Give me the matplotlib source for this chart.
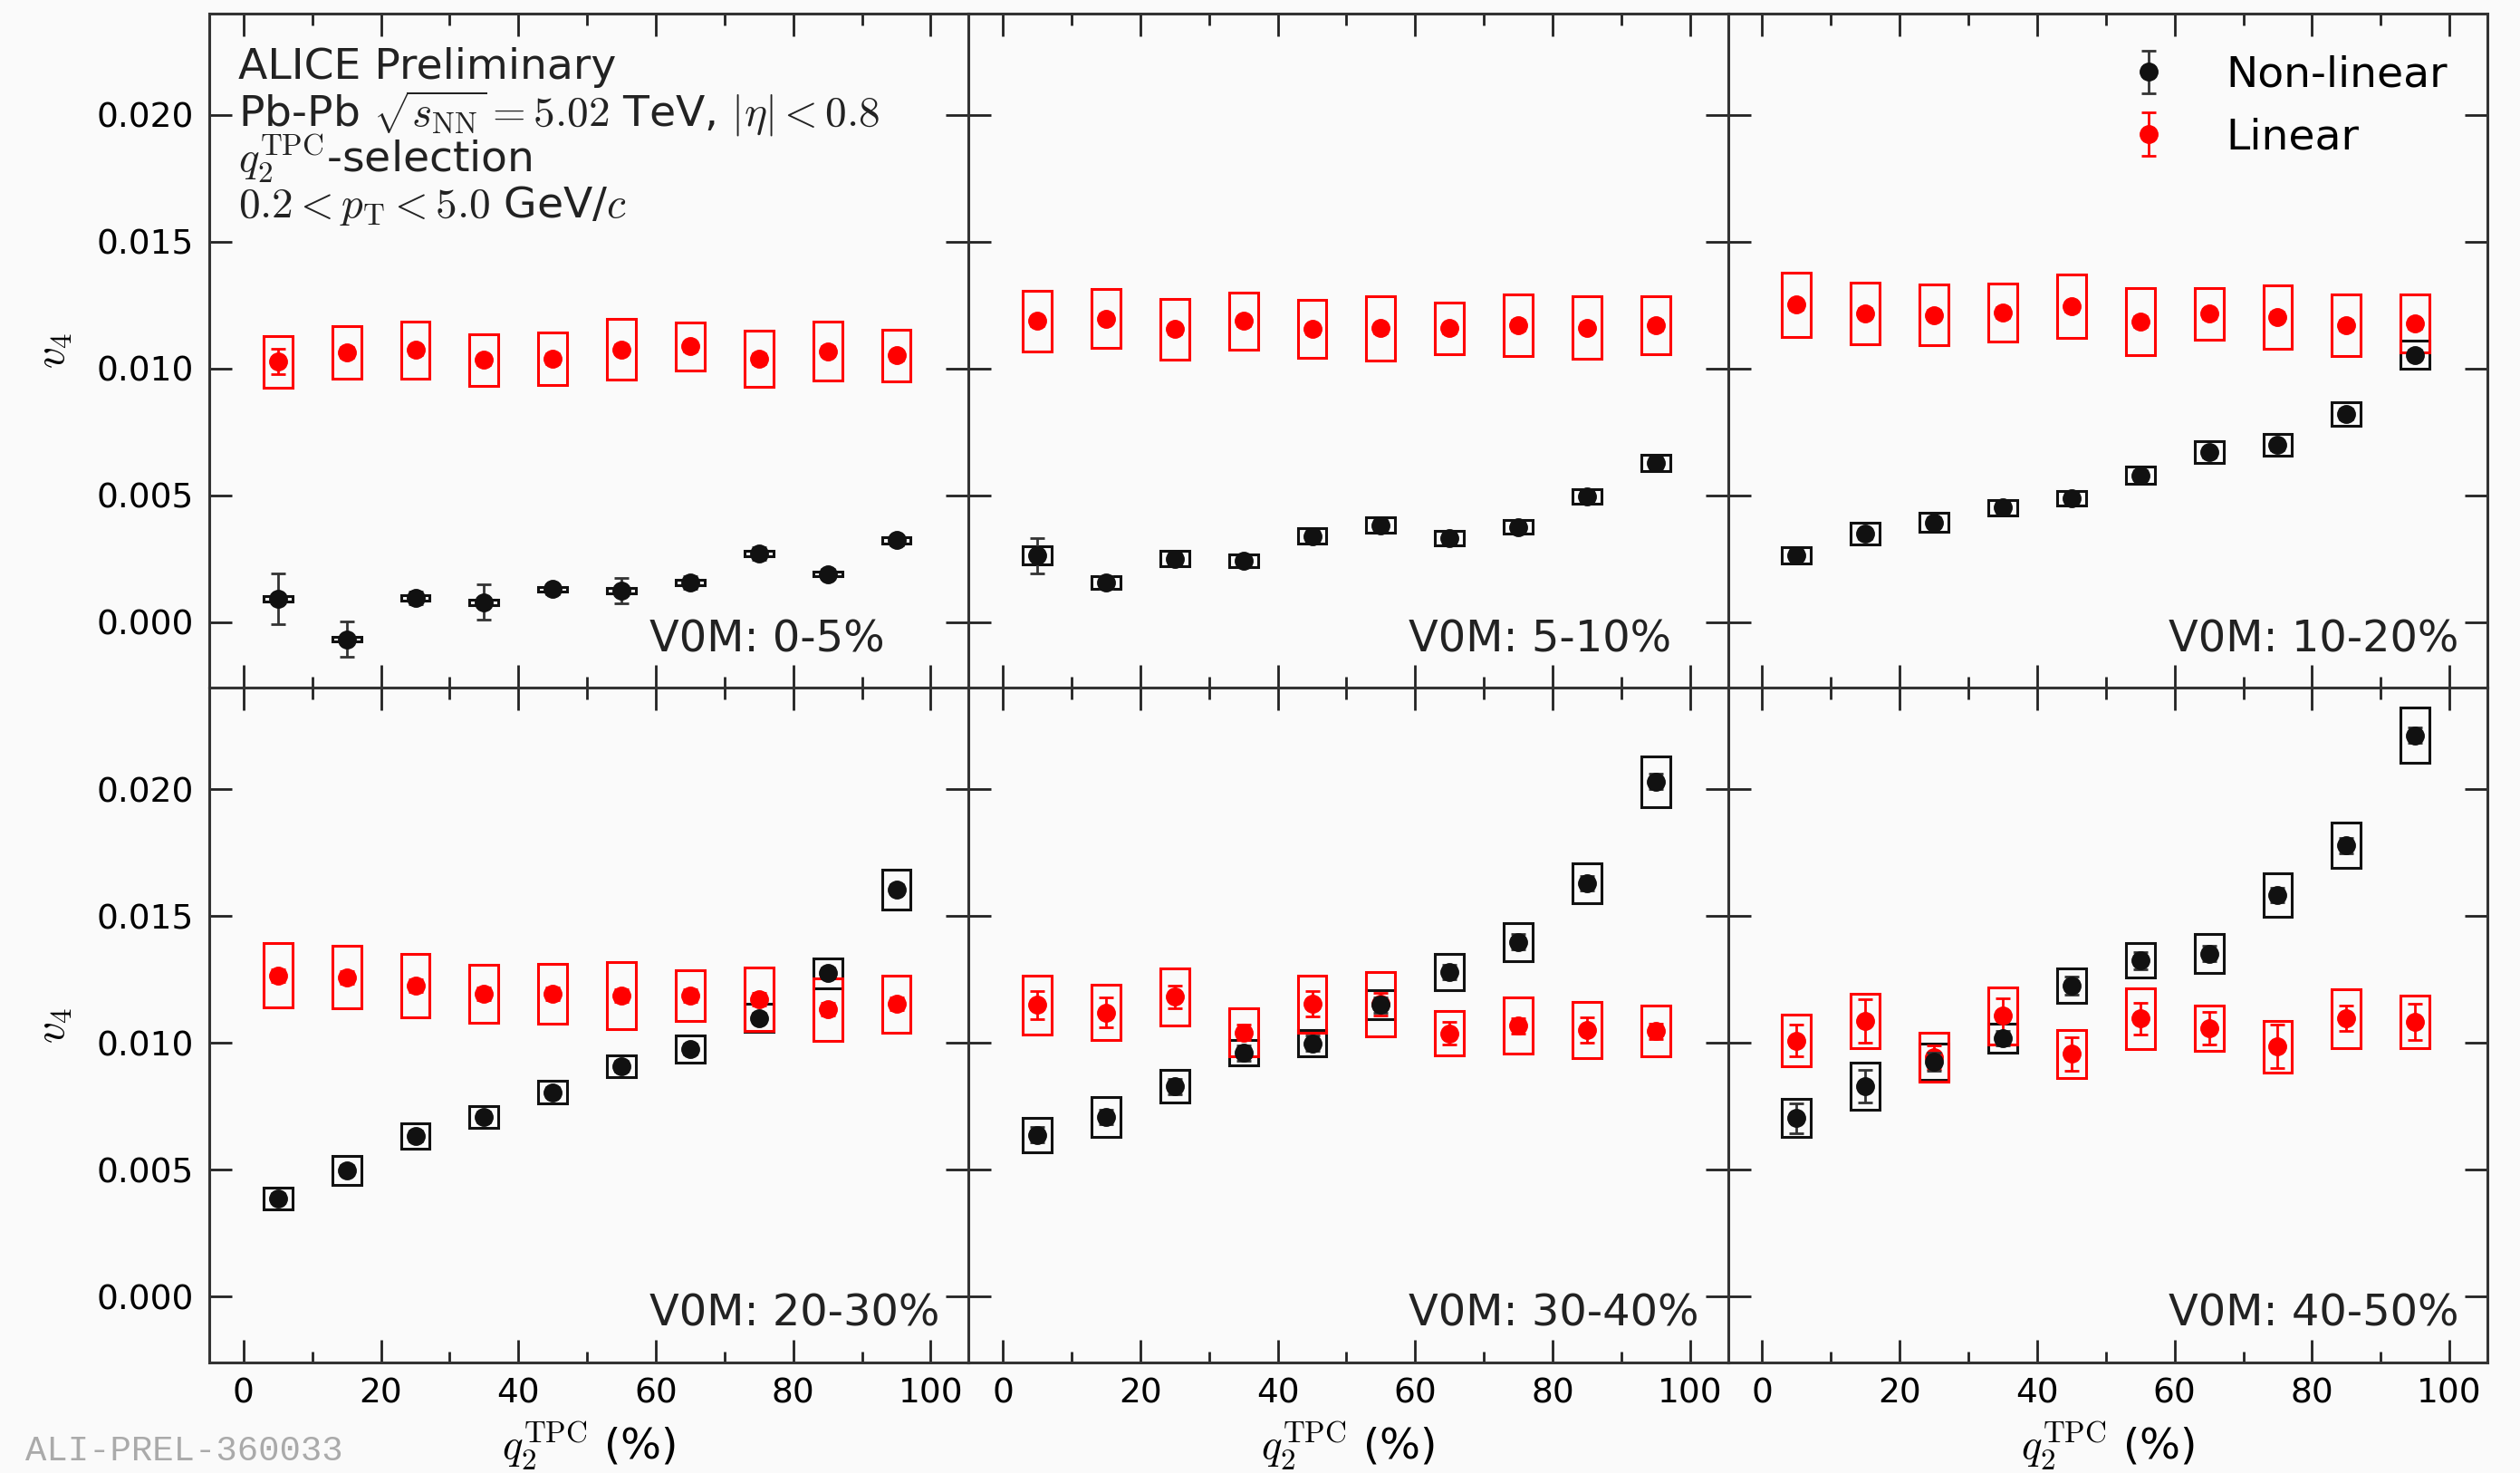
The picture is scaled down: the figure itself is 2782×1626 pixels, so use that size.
import numpy as np
import matplotlib
matplotlib.use("Agg")
import matplotlib.pyplot as plt
from matplotlib.ticker import MultipleLocator

plt.rcParams['font.family'] = ['DejaVu Sans']
plt.rcParams['mathtext.fontset'] = 'cm'

# q2 selection bins (%)
q2 = [5, 15, 25, 35, 45, 55, 65, 75, 85, 95]
centralities = ['V0M: 0-5%', 'V0M: 5-10%', 'V0M: 10-20%',
                'V0M: 20-30%', 'V0M: 30-40%', 'V0M: 40-50%']

# non-linear v4
nl_val = [
    [0.00091, -0.00068, 0.00095, 0.00078, 0.00129, 0.00123, 0.00156, 0.00270, 0.00189, 0.00322],
    [0.00262, 0.00157, 0.00250, 0.00240, 0.00339, 0.00381, 0.00331, 0.00375, 0.00494, 0.00627],
    [0.00264, 0.00348, 0.00392, 0.00451, 0.00487, 0.00578, 0.00669, 0.00697, 0.00820, 0.01053],
    [0.00388, 0.00499, 0.00633, 0.00708, 0.00806, 0.00908, 0.00976, 0.01099, 0.01276, 0.01606],
    [0.00638, 0.00708, 0.00829, 0.00960, 0.00998, 0.01150, 0.01280, 0.01398, 0.01630, 0.02031],
    [0.00703, 0.00829, 0.00927, 0.01019, 0.01226, 0.01325, 0.01352, 0.01583, 0.01779, 0.02213],
]
nl_stat = [
    [0.00100, 0.00070, 0.00025, 0.00070, 0.00020, 0.00050, 0.00025, 0.00025, 0.00020, 0.00020],
    [0.00070, 0.00025, 0.00020, 0.00020, 0.00020, 0.00020, 0.00020, 0.00020, 0.00020, 0.00020],
    [0.00020, 0.00020, 0.00020, 0.00020, 0.00020, 0.00020, 0.00020, 0.00020, 0.00020, 0.00020],
    [0.00020, 0.00020, 0.00020, 0.00020, 0.00020, 0.00020, 0.00020, 0.00020, 0.00020, 0.00020],
    [0.00030, 0.00030, 0.00030, 0.00030, 0.00030, 0.00030, 0.00030, 0.00030, 0.00030, 0.00030],
    [0.00060, 0.00065, 0.00035, 0.00030, 0.00035, 0.00035, 0.00030, 0.00030, 0.00030, 0.00030],
]
nl_sys = [
    [0.00010, 0.00010, 0.00010, 0.00010, 0.00010, 0.00010, 0.00010, 0.00012, 0.00010, 0.00012],
    [0.00036, 0.00025, 0.00030, 0.00025, 0.00030, 0.00030, 0.00028, 0.00028, 0.00028, 0.00032],
    [0.00032, 0.00042, 0.00037, 0.00030, 0.00029, 0.00034, 0.00042, 0.00043, 0.00045, 0.00055],
    [0.00043, 0.00057, 0.00050, 0.00043, 0.00044, 0.00044, 0.00054, 0.00056, 0.00059, 0.00079],
    [0.00068, 0.00078, 0.00065, 0.00050, 0.00052, 0.00057, 0.00070, 0.00076, 0.00080, 0.00100],
    [0.00075, 0.00092, 0.00071, 0.00057, 0.00068, 0.00068, 0.00076, 0.00087, 0.00090, 0.00110],
]

# linear v4
lin_val = [
    [0.01026, 0.01063, 0.01072, 0.01033, 0.01038, 0.01075, 0.01087, 0.01038, 0.01068, 0.01051],
    [0.01187, 0.01196, 0.01155, 0.01187, 0.01155, 0.01158, 0.01158, 0.01170, 0.01161, 0.01170],
    [0.01251, 0.01217, 0.01211, 0.01220, 0.01244, 0.01184, 0.01215, 0.01203, 0.01170, 0.01176],
    [0.01267, 0.01259, 0.01226, 0.01194, 0.01194, 0.01186, 0.01186, 0.01172, 0.01132, 0.01153],
    [0.01150, 0.01120, 0.01182, 0.01042, 0.01153, 0.01153, 0.01038, 0.01068, 0.01051, 0.01047],
    [0.01009, 0.01087, 0.00944, 0.01107, 0.00957, 0.01096, 0.01058, 0.00986, 0.01096, 0.01083],
]
lin_stat = [
    [0.00050, 0.00020, 0.00020, 0.00020, 0.00020, 0.00020, 0.00020, 0.00020, 0.00020, 0.00020],
    [0.00020, 0.00020, 0.00020, 0.00020, 0.00020, 0.00020, 0.00020, 0.00020, 0.00020, 0.00020],
    [0.00020, 0.00020, 0.00020, 0.00020, 0.00020, 0.00020, 0.00020, 0.00020, 0.00020, 0.00020],
    [0.00025, 0.00025, 0.00025, 0.00025, 0.00025, 0.00025, 0.00025, 0.00025, 0.00025, 0.00025],
    [0.00055, 0.00060, 0.00045, 0.00030, 0.00050, 0.00045, 0.00045, 0.00030, 0.00050, 0.00030],
    [0.00063, 0.00085, 0.00045, 0.00070, 0.00065, 0.00063, 0.00065, 0.00085, 0.00050, 0.00070],
]
lin_sys = [
    [0.00101, 0.00104, 0.00112, 0.00101, 0.00103, 0.00120, 0.00095, 0.00112, 0.00117, 0.00101],
    [0.00119, 0.00116, 0.00119, 0.00112, 0.00115, 0.00127, 0.00101, 0.00123, 0.00123, 0.00113],
    [0.00126, 0.00121, 0.00119, 0.00116, 0.00125, 0.00132, 0.00103, 0.00125, 0.00122, 0.00114],
    [0.00127, 0.00123, 0.00124, 0.00114, 0.00117, 0.00132, 0.00100, 0.00125, 0.00124, 0.00111],
    [0.00116, 0.00110, 0.00112, 0.00095, 0.00113, 0.00127, 0.00088, 0.00110, 0.00110, 0.00101],
    [0.00101, 0.00106, 0.00095, 0.00113, 0.00094, 0.00120, 0.00090, 0.00102, 0.00116, 0.00103],
]

RED = '#ff0000'
BLACK = '#111111'

fig, axes = plt.subplots(2, 3, figsize=(27.82, 16.26), dpi=100, sharex=True)
fig.patch.set_facecolor('#fafafa')
fig.subplots_adjust(left=0.083, right=0.987, top=0.991, bottom=0.075,
                    wspace=0, hspace=0)

for i, ax in enumerate(axes.flat):
    ax.set_facecolor('#fafafa')
    # systematic boxes
    nv, ns = np.array(nl_val[i]), np.array(nl_sys[i])
    lv, ls = np.array(lin_val[i]), np.array(lin_sys[i])
    ax.bar(q2, 2 * ns, bottom=nv - ns, width=4.2, fill=False,
           edgecolor=BLACK, linewidth=2.2, zorder=2)
    ax.bar(q2, 2 * ls, bottom=lv - ls, width=4.2, fill=False,
           edgecolor=RED, linewidth=2.2, zorder=2)
    h1 = ax.errorbar(q2, nv, yerr=nl_stat[i], fmt='o', color=BLACK, ecolor='#333333',
                     markersize=14, elinewidth=2, capsize=6, capthick=2, zorder=4)
    h2 = ax.errorbar(q2, lv, yerr=lin_stat[i], fmt='o', color=RED, ecolor=RED,
                     markersize=14, elinewidth=2, capsize=6, capthick=2, zorder=3)

    ax.set_xlim(-5, 105.5)
    ax.set_ylim(-0.0026, 0.024)
    ax.xaxis.set_major_locator(MultipleLocator(20))
    ax.xaxis.set_minor_locator(MultipleLocator(10))
    ax.yaxis.set_major_locator(MultipleLocator(0.005))
    ax.tick_params(which='both', direction='in', top=True, right=True,
                   labelsize=27, width=2, color='#222222')
    ax.tick_params(which='major', length=18, pad=12)
    ax.tick_params(which='minor', length=9)
    for s in ax.spines.values():
        s.set_linewidth(2.2)
        s.set_color('#333333')

    ax.text(0.58, 0.072, centralities[i], transform=ax.transAxes,
            fontsize=34.5, ha='left', va='center', color='#222222')

    if i % 3 == 0:
        ax.yaxis.set_major_formatter(matplotlib.ticker.FormatStrFormatter('%.3f'))
        ax.set_ylabel(r'$v_4$', fontsize=34, labelpad=18)
    else:
        ax.tick_params(labelleft=False)
    if i >= 3:
        ax.set_xlabel(r'$q_2^{\rm TPC}$ (%)', fontsize=34, labelpad=8)

# info block, one text per line like the original
ax0 = axes[0, 0]
info = ['ALICE Preliminary',
        r'Pb-Pb $\sqrt{s_{\rm NN}} = 5.02$ TeV, $|\eta| < 0.8$',
        r'$q_2^{\rm TPC}$-selection',
        r'$0.2 < p_{\rm T} < 5.0$ GeV/$c$']
for k, line in enumerate(info):
    ax0.text(0.038, 0.920 - 0.0685 * k, line, transform=ax0.transAxes,
             fontsize=34, ha='left', va='center', color='#222222')

axes[0, 2].legend([h1, h2], ['Non-linear', 'Linear'], loc='upper left',
                  bbox_to_anchor=(0.47, 0.995), frameon=False, fontsize=34,
                  handlelength=1.2, handletextpad=1.2, labelspacing=0.5)

fig.text(0.01, 0.015, 'ALI-PREL-360033', fontsize=28, color='#aaaaaa',
         family='Liberation Mono', ha='left', va='center')

fig.savefig('out.png', dpi=100, facecolor=fig.get_facecolor())
